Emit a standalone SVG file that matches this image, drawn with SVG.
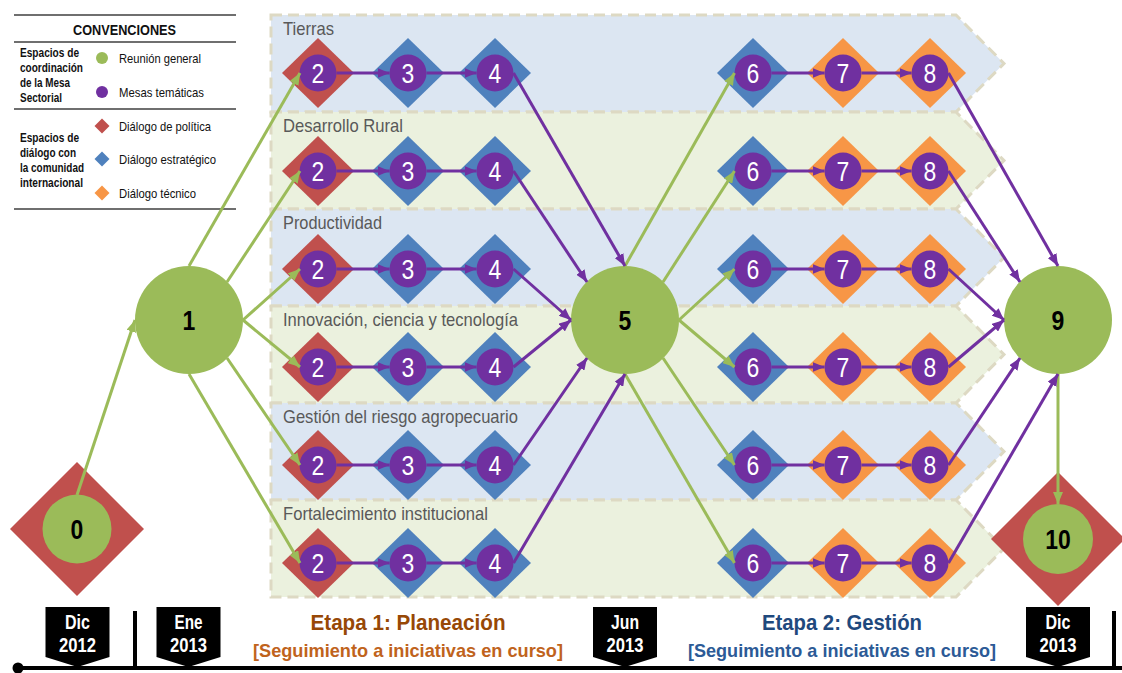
<svg xmlns="http://www.w3.org/2000/svg" width="1122" height="673" viewBox="0 0 1122 673">
<style>
.band{stroke:#DDD9C3;stroke-width:3;stroke-dasharray:11 6}
.bb{fill:#DCE6F2}.bg{fill:#EBF1DE}
.blabel{font-family:"Liberation Sans Narrow","Liberation Sans",Arial,sans-serif;font-size:19px;fill:#595959}
.dr{fill:#C0504D}.db{fill:#4F81BD}.do{fill:#F79646}
.pc{fill:#7030A0}.gc{fill:#9BBB59}
.num{font-family:"Liberation Sans Narrow","Liberation Sans",Arial,sans-serif;font-size:28px;fill:#fff;text-anchor:middle}
.big{font-family:"Liberation Sans Narrow","Liberation Sans",Arial,sans-serif;font-size:28px;font-weight:bold;fill:#000;text-anchor:middle}
.cg{fill:none;stroke:#9BBB59;stroke-width:3;marker-end:url(#ag)}
.cp{fill:none;stroke:#7030A0;stroke-width:3;marker-end:url(#ap)}
.lg{font-family:"Liberation Sans Narrow","Liberation Sans",Arial,sans-serif;font-size:13px;fill:#111}
.lgb{font-family:"Liberation Sans Narrow","Liberation Sans",Arial,sans-serif;font-size:12px;font-weight:bold;fill:#111}
.rule{stroke:#3f3f3f;stroke-width:1.3}
.tag{fill:#000}
.tagt{font-family:"Liberation Sans Narrow","Liberation Sans",Arial,sans-serif;font-size:20px;font-weight:bold;fill:#fff;text-anchor:middle}
.et{font-family:"Liberation Sans Narrow","Liberation Sans",Arial,sans-serif;font-weight:bold;text-anchor:middle}
</style>
<defs>
<marker id="ag" viewBox="0 0 12 10" refX="12" refY="5" markerWidth="12" markerHeight="10" markerUnits="userSpaceOnUse" orient="auto"><path d="M0,0 L12,5 L0,10 z" fill="#9BBB59"/></marker>
<marker id="ap" viewBox="0 0 12 10" refX="12" refY="5" markerWidth="12" markerHeight="10" markerUnits="userSpaceOnUse" orient="auto"><path d="M0,0 L12,5 L0,10 z" fill="#7030A0"/></marker>
<polygon id="dia" points="-36,0 0,-35 36,0 0,35"/>
</defs>

<g id="bands">
<g id="band-tierras"><path class="band bb" d="M271,15 H956 L1004,63.5 L956,112 H271 Z"/><text class="blabel" x="283" y="35" textLength="51" lengthAdjust="spacingAndGlyphs">Tierras</text></g>
<g id="band-desarrollo"><path class="band bg" d="M271,112 H956 L1004,160.5 L956,209 H271 Z"/><text class="blabel" x="283" y="132" textLength="120" lengthAdjust="spacingAndGlyphs">Desarrollo Rural</text></g>
<g id="band-productividad"><path class="band bb" d="M271,209 H956 L1004,257.5 L956,306 H271 Z"/><text class="blabel" x="283" y="229" textLength="99" lengthAdjust="spacingAndGlyphs">Productividad</text></g>
<g id="band-innovacion"><path class="band bg" d="M271,306 H956 L1004,354.5 L956,403 H271 Z"/><text class="blabel" x="283" y="326" textLength="235" lengthAdjust="spacingAndGlyphs">Innovación,  ciencia y tecnología</text></g>
<g id="band-gestion"><path class="band bb" d="M271,403 H956 L1004,451.5 L956,500 H271 Z"/><text class="blabel" x="283" y="423" textLength="235" lengthAdjust="spacingAndGlyphs">Gestión del riesgo agropecuario</text></g>
<g id="band-fortalecimiento"><path class="band bg" d="M271,500 H956 L1004,548.5 L956,597 H271 Z"/><text class="blabel" x="283" y="520" textLength="205" lengthAdjust="spacingAndGlyphs">Fortalecimiento institucional</text></g>
</g>

<g id="legend">
<line class="rule" x1="14" y1="15" x2="236" y2="15"/>
<text x="124.5" y="35" text-anchor="middle" font-family="'Liberation Sans Narrow','Liberation Sans',Arial,sans-serif" font-size="15" font-weight="bold" fill="#111" textLength="103" lengthAdjust="spacingAndGlyphs">CONVENCIONES</text>
<line class="rule" x1="14" y1="42" x2="236" y2="42"/>
<text class="lgb" x="20" y="57" textLength="59" lengthAdjust="spacingAndGlyphs">Espacios de</text>
<text class="lgb" x="20" y="72" textLength="63" lengthAdjust="spacingAndGlyphs">coordinación</text>
<text class="lgb" x="20" y="87" textLength="50" lengthAdjust="spacingAndGlyphs">de la Mesa</text>
<text class="lgb" x="20" y="102" textLength="42" lengthAdjust="spacingAndGlyphs">Sectorial</text>
<circle class="gc" cx="102" cy="58" r="6"/>
<text class="lg" x="119" y="63" textLength="82" lengthAdjust="spacingAndGlyphs">Reunión general</text>
<circle class="pc" cx="102" cy="92" r="6"/>
<text class="lg" x="119" y="97" textLength="85" lengthAdjust="spacingAndGlyphs">Mesas temáticas</text>
<line class="rule" x1="14" y1="109" x2="236" y2="109"/>
<text class="lgb" x="20" y="142" textLength="59" lengthAdjust="spacingAndGlyphs">Espacios de</text>
<text class="lgb" x="20" y="157" textLength="56" lengthAdjust="spacingAndGlyphs">diálogo con</text>
<text class="lgb" x="20" y="172" textLength="64" lengthAdjust="spacingAndGlyphs">la comunidad</text>
<text class="lgb" x="20" y="187" textLength="63" lengthAdjust="spacingAndGlyphs">internacional</text>
<polygon class="dr" points="94.5,126 102,118.5 109.5,126 102,133.5"/>
<text class="lg" x="119" y="131" textLength="92" lengthAdjust="spacingAndGlyphs">Diálogo de política</text>
<polygon class="db" points="94.5,159 102,151.5 109.5,159 102,166.5"/>
<text class="lg" x="119" y="164" textLength="97" lengthAdjust="spacingAndGlyphs">Diálogo estratégico</text>
<polygon class="do" points="94.5,193 102,185.5 109.5,193 102,200.5"/>
<text class="lg" x="119" y="198" textLength="77" lengthAdjust="spacingAndGlyphs">Diálogo técnico</text>
<line class="rule" x1="14" y1="209" x2="236" y2="209"/>
</g>

<g id="timeline">
<line x1="18" y1="668" x2="1122" y2="668" stroke="#000" stroke-width="4"/>
<circle cx="18" cy="668" r="5.5" fill="#000"/>
<line x1="135" y1="611" x2="135" y2="668" stroke="#000" stroke-width="4"/>
<line x1="1114" y1="611" x2="1114" y2="668" stroke="#000" stroke-width="4"/>
<g id="tag-dic2012"><polygon class="tag" points="45.5,607 109.5,607 109.5,657 77.5,667 45.5,657"/><text class="tagt" x="77.5" y="629" textLength="25" lengthAdjust="spacingAndGlyphs">Dic</text><text class="tagt" x="77.5" y="652" textLength="37" lengthAdjust="spacingAndGlyphs">2012</text></g>
<g id="tag-ene2013"><polygon class="tag" points="156.5,607 220.5,607 220.5,657 188.5,667 156.5,657"/><text class="tagt" x="188.5" y="629" textLength="28" lengthAdjust="spacingAndGlyphs">Ene</text><text class="tagt" x="188.5" y="652" textLength="37" lengthAdjust="spacingAndGlyphs">2013</text></g>
<g id="tag-jun2013"><polygon class="tag" points="593,607 657,607 657,657 625,667 593,657"/><text class="tagt" x="625" y="629" textLength="28" lengthAdjust="spacingAndGlyphs">Jun</text><text class="tagt" x="625" y="652" textLength="37" lengthAdjust="spacingAndGlyphs">2013</text></g>
<g id="tag-dic2013"><polygon class="tag" points="1026,607 1090,607 1090,657 1058,667 1026,657"/><text class="tagt" x="1058" y="629" textLength="25" lengthAdjust="spacingAndGlyphs">Dic</text><text class="tagt" x="1058" y="652" textLength="37" lengthAdjust="spacingAndGlyphs">2013</text></g>
<text class="et" x="408" y="630" font-size="22" fill="#974806" textLength="195" lengthAdjust="spacingAndGlyphs">Etapa 1: Planeación</text>
<text class="et" x="408" y="657" font-size="19" fill="#C0631C" textLength="310" lengthAdjust="spacingAndGlyphs">[Seguimiento a iniciativas en curso]</text>
<text class="et" x="842" y="630" font-size="22" fill="#1F497D" textLength="160" lengthAdjust="spacingAndGlyphs">Etapa 2: Gestión</text>
<text class="et" x="842" y="657" font-size="19" fill="#2C5A96" textLength="308" lengthAdjust="spacingAndGlyphs">[Seguimiento a iniciativas en curso]</text>
</g>

<g id="nodes">
<g id="n0" transform="translate(77,529)"><polygon class="dr" points="-67,0 0,-67 67,0 0,67"/><circle class="gc" r="34.5"/><text class="big" y="10" transform="scale(0.82,1)">0</text></g>
<g id="n1" transform="translate(189,320)"><circle class="gc" r="54"/><text class="big" y="10" transform="scale(0.82,1)">1</text></g>
<g id="n5" transform="translate(625,320)"><circle class="gc" r="54"/><text class="big" y="10" transform="scale(0.82,1)">5</text></g>
<g id="n9" transform="translate(1058,320)"><circle class="gc" r="54"/><text class="big" y="10" transform="scale(0.82,1)">9</text></g>
<g id="n10" transform="translate(1058,539)"><polygon class="dr" points="-67,0 0,-67 67,0 0,67"/><circle class="gc" r="35"/><text class="big" y="10" transform="scale(0.82,1)">10</text></g>

<g id="r1-2" transform="translate(318,73)"><use href="#dia" class="dr"/><circle class="pc" r="18.5"/><text class="num" y="10" transform="scale(0.82,1)">2</text></g>
<g id="r1-3" transform="translate(408,73)"><use href="#dia" class="db"/><circle class="pc" r="18.5"/><text class="num" y="10" transform="scale(0.82,1)">3</text></g>
<g id="r1-4" transform="translate(495,73)"><use href="#dia" class="db"/><circle class="pc" r="18.5"/><text class="num" y="10" transform="scale(0.82,1)">4</text></g>
<g id="r1-6" transform="translate(753,73)"><use href="#dia" class="db"/><circle class="pc" r="18.5"/><text class="num" y="10" transform="scale(0.82,1)">6</text></g>
<g id="r1-7" transform="translate(843,73)"><use href="#dia" class="do"/><circle class="pc" r="18.5"/><text class="num" y="10" transform="scale(0.82,1)">7</text></g>
<g id="r1-8" transform="translate(930,73)"><use href="#dia" class="do"/><circle class="pc" r="18.5"/><text class="num" y="10" transform="scale(0.82,1)">8</text></g>

<g id="r2-2" transform="translate(318,171)"><use href="#dia" class="dr"/><circle class="pc" r="18.5"/><text class="num" y="10" transform="scale(0.82,1)">2</text></g>
<g id="r2-3" transform="translate(408,171)"><use href="#dia" class="db"/><circle class="pc" r="18.5"/><text class="num" y="10" transform="scale(0.82,1)">3</text></g>
<g id="r2-4" transform="translate(495,171)"><use href="#dia" class="db"/><circle class="pc" r="18.5"/><text class="num" y="10" transform="scale(0.82,1)">4</text></g>
<g id="r2-6" transform="translate(753,171)"><use href="#dia" class="db"/><circle class="pc" r="18.5"/><text class="num" y="10" transform="scale(0.82,1)">6</text></g>
<g id="r2-7" transform="translate(843,171)"><use href="#dia" class="do"/><circle class="pc" r="18.5"/><text class="num" y="10" transform="scale(0.82,1)">7</text></g>
<g id="r2-8" transform="translate(930,171)"><use href="#dia" class="do"/><circle class="pc" r="18.5"/><text class="num" y="10" transform="scale(0.82,1)">8</text></g>

<g id="r3-2" transform="translate(318,269)"><use href="#dia" class="dr"/><circle class="pc" r="18.5"/><text class="num" y="10" transform="scale(0.82,1)">2</text></g>
<g id="r3-3" transform="translate(408,269)"><use href="#dia" class="db"/><circle class="pc" r="18.5"/><text class="num" y="10" transform="scale(0.82,1)">3</text></g>
<g id="r3-4" transform="translate(495,269)"><use href="#dia" class="db"/><circle class="pc" r="18.5"/><text class="num" y="10" transform="scale(0.82,1)">4</text></g>
<g id="r3-6" transform="translate(753,269)"><use href="#dia" class="db"/><circle class="pc" r="18.5"/><text class="num" y="10" transform="scale(0.82,1)">6</text></g>
<g id="r3-7" transform="translate(843,269)"><use href="#dia" class="do"/><circle class="pc" r="18.5"/><text class="num" y="10" transform="scale(0.82,1)">7</text></g>
<g id="r3-8" transform="translate(930,269)"><use href="#dia" class="do"/><circle class="pc" r="18.5"/><text class="num" y="10" transform="scale(0.82,1)">8</text></g>

<g id="r4-2" transform="translate(318,367)"><use href="#dia" class="dr"/><circle class="pc" r="18.5"/><text class="num" y="10" transform="scale(0.82,1)">2</text></g>
<g id="r4-3" transform="translate(408,367)"><use href="#dia" class="db"/><circle class="pc" r="18.5"/><text class="num" y="10" transform="scale(0.82,1)">3</text></g>
<g id="r4-4" transform="translate(495,367)"><use href="#dia" class="db"/><circle class="pc" r="18.5"/><text class="num" y="10" transform="scale(0.82,1)">4</text></g>
<g id="r4-6" transform="translate(753,367)"><use href="#dia" class="db"/><circle class="pc" r="18.5"/><text class="num" y="10" transform="scale(0.82,1)">6</text></g>
<g id="r4-7" transform="translate(843,367)"><use href="#dia" class="do"/><circle class="pc" r="18.5"/><text class="num" y="10" transform="scale(0.82,1)">7</text></g>
<g id="r4-8" transform="translate(930,367)"><use href="#dia" class="do"/><circle class="pc" r="18.5"/><text class="num" y="10" transform="scale(0.82,1)">8</text></g>

<g id="r5-2" transform="translate(318,465)"><use href="#dia" class="dr"/><circle class="pc" r="18.5"/><text class="num" y="10" transform="scale(0.82,1)">2</text></g>
<g id="r5-3" transform="translate(408,465)"><use href="#dia" class="db"/><circle class="pc" r="18.5"/><text class="num" y="10" transform="scale(0.82,1)">3</text></g>
<g id="r5-4" transform="translate(495,465)"><use href="#dia" class="db"/><circle class="pc" r="18.5"/><text class="num" y="10" transform="scale(0.82,1)">4</text></g>
<g id="r5-6" transform="translate(753,465)"><use href="#dia" class="db"/><circle class="pc" r="18.5"/><text class="num" y="10" transform="scale(0.82,1)">6</text></g>
<g id="r5-7" transform="translate(843,465)"><use href="#dia" class="do"/><circle class="pc" r="18.5"/><text class="num" y="10" transform="scale(0.82,1)">7</text></g>
<g id="r5-8" transform="translate(930,465)"><use href="#dia" class="do"/><circle class="pc" r="18.5"/><text class="num" y="10" transform="scale(0.82,1)">8</text></g>

<g id="r6-2" transform="translate(318,563)"><use href="#dia" class="dr"/><circle class="pc" r="18.5"/><text class="num" y="10" transform="scale(0.82,1)">2</text></g>
<g id="r6-3" transform="translate(408,563)"><use href="#dia" class="db"/><circle class="pc" r="18.5"/><text class="num" y="10" transform="scale(0.82,1)">3</text></g>
<g id="r6-4" transform="translate(495,563)"><use href="#dia" class="db"/><circle class="pc" r="18.5"/><text class="num" y="10" transform="scale(0.82,1)">4</text></g>
<g id="r6-6" transform="translate(753,563)"><use href="#dia" class="db"/><circle class="pc" r="18.5"/><text class="num" y="10" transform="scale(0.82,1)">6</text></g>
<g id="r6-7" transform="translate(843,563)"><use href="#dia" class="do"/><circle class="pc" r="18.5"/><text class="num" y="10" transform="scale(0.82,1)">7</text></g>
<g id="r6-8" transform="translate(930,563)"><use href="#dia" class="do"/><circle class="pc" r="18.5"/><text class="num" y="10" transform="scale(0.82,1)">8</text></g>
</g>

<g id="connectors">
<path class="cg" d="M77,495 L135,320"/>
<path class="cg" d="M189,266 L300,73"/>
<path class="cg" d="M227,282 L300,171"/>
<path class="cg" d="M243,320 L300,269"/>
<path class="cg" d="M243,320 L300,367"/>
<path class="cg" d="M227,358 L300,465"/>
<path class="cg" d="M189,374 L300,563"/>
<path class="cg" d="M625,266 L734.5,73"/>
<path class="cg" d="M663,282 L734.5,171"/>
<path class="cg" d="M679,320 L734.5,269"/>
<path class="cg" d="M679,320 L734.5,367"/>
<path class="cg" d="M663,358 L734.5,465"/>
<path class="cg" d="M625,374 L734.5,563"/>
<path class="cg" d="M1058,374 L1058,504"/>

<path class="cp" d="M336.5,73 L389.5,73"/><path class="cp" d="M426.5,73 L476.5,73"/><path class="cp" d="M771.5,73 L824.5,73"/><path class="cp" d="M861.5,73 L911.5,73"/>
<path class="cp" d="M336.5,171 L389.5,171"/><path class="cp" d="M426.5,171 L476.5,171"/><path class="cp" d="M771.5,171 L824.5,171"/><path class="cp" d="M861.5,171 L911.5,171"/>
<path class="cp" d="M336.5,269 L389.5,269"/><path class="cp" d="M426.5,269 L476.5,269"/><path class="cp" d="M771.5,269 L824.5,269"/><path class="cp" d="M861.5,269 L911.5,269"/>
<path class="cp" d="M336.5,367 L389.5,367"/><path class="cp" d="M426.5,367 L476.5,367"/><path class="cp" d="M771.5,367 L824.5,367"/><path class="cp" d="M861.5,367 L911.5,367"/>
<path class="cp" d="M336.5,465 L389.5,465"/><path class="cp" d="M426.5,465 L476.5,465"/><path class="cp" d="M771.5,465 L824.5,465"/><path class="cp" d="M861.5,465 L911.5,465"/>
<path class="cp" d="M336.5,563 L389.5,563"/><path class="cp" d="M426.5,563 L476.5,563"/><path class="cp" d="M771.5,563 L824.5,563"/><path class="cp" d="M861.5,563 L911.5,563"/>

<path class="cp" d="M513.5,73 L625,266"/>
<path class="cp" d="M513.5,171 L587,282"/>
<path class="cp" d="M513.5,269 L571,320"/>
<path class="cp" d="M513.5,367 L571,320"/>
<path class="cp" d="M513.5,465 L587,358"/>
<path class="cp" d="M513.5,563 L625,374"/>

<path class="cp" d="M948.5,73 L1058,266"/>
<path class="cp" d="M948.5,171 L1020,282"/>
<path class="cp" d="M948.5,269 L1004,320"/>
<path class="cp" d="M948.5,367 L1004,320"/>
<path class="cp" d="M948.5,465 L1020,358"/>
<path class="cp" d="M948.5,563 L1058,374"/>
</g>
</svg>
